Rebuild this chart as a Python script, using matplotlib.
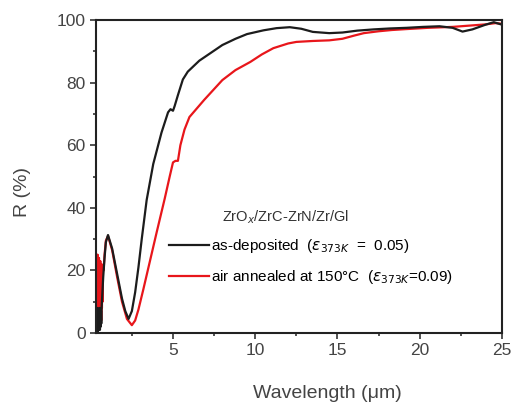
import matplotlib.pyplot as plt
from matplotlib.ticker import MultipleLocator

plt.rcParams["font.family"] = ["Liberation Sans", "DejaVu Sans"]

# as-deposited (black)
wl_dep = [0.32, 0.34, 0.36, 0.38, 0.40, 0.42, 0.44, 0.46, 0.48, 0.50, 0.52, 0.54,
          0.56, 0.58, 0.60, 0.62, 0.64, 0.66, 0.70, 0.76,
          0.84, 0.92, 1.05, 1.3, 1.6, 1.9, 2.1, 2.3, 2.5, 2.7, 2.9, 3.1, 3.4, 3.8,
          4.3, 4.7, 4.85, 5.0, 5.1, 5.3, 5.6, 5.9, 6.6, 7.3, 8.0, 8.8, 9.5, 10.5,
          11.3, 12.1, 12.8, 13.5, 14.5, 15.3, 16.2, 17.2, 18.2, 19.2, 20.2, 21.2,
          22.0, 22.6, 23.2, 24.0, 24.5, 25.0]
R_dep = [1, 8, 0.5, 7, 1, 8, 0.5, 6, 1, 7, 2, 8,
         1, 6, 2, 7, 3, 8, 12, 18,
         24, 29, 31.3, 27, 19, 11, 7, 4.5, 7, 13, 21, 30, 42.5, 54,
         64, 70.5, 71.5, 71, 72.5, 76, 81, 83.5, 87, 89.5, 92, 94, 95.5, 96.7,
         97.4, 97.7, 97.2, 96.2, 95.8, 96.0, 96.6, 97.0, 97.3, 97.5, 97.8, 98.0,
         97.5, 96.3, 97.0, 98.5, 99.3, 98.5]

# air annealed at 150 C (red)
wl_ann = [0.32, 0.34, 0.36, 0.38, 0.40, 0.42, 0.44, 0.46, 0.48, 0.50, 0.52, 0.54,
          0.56, 0.58, 0.60, 0.62, 0.64, 0.66, 0.68, 0.70, 0.72, 0.74, 0.78,
          0.84, 0.92, 1.05, 1.3, 1.6, 1.9, 2.2,
          2.5, 2.7, 2.9, 3.2, 3.6, 4.0, 4.5, 4.8, 5.0, 5.15, 5.3, 5.45, 5.7, 6.0,
          6.9, 8.0, 8.8, 9.7, 10.4, 11.1, 12.0, 12.5, 13.5, 14.5, 15.3, 16.0, 16.6,
          17.5, 18.3, 19.2, 20.5, 22.0, 23.0, 24.0, 24.6, 25.0]
R_ann = [3, 24, 1, 25, 2, 25, 4, 23, 2, 24, 5, 22,
         3, 23, 6, 21, 4, 22, 8, 20, 10, 21, 20,
         25, 29.5, 31, 26.5, 18, 10, 4.5,
         2.5, 4, 7.5, 14, 23, 32, 43, 50, 54.5, 55, 55, 60, 65, 69,
         74.5, 80.8, 84, 86.6, 89, 91, 92.5, 93, 93.3, 93.5, 94, 95, 95.8,
         96.4, 96.8, 97.1, 97.5, 97.8, 98.2, 98.6, 99, 98.8]

fig = plt.figure(figsize=(5.14, 4.07), dpi=100)
ax = fig.add_axes([96 / 514, (407 - 333) / 407, 406 / 514, 313 / 407])

ax.plot(wl_ann, R_ann, color="#e8161b", lw=1.6,
        label="air annealed at 150\u00b0C  ($\\epsilon_{373K}$=0.09)")
ax.plot(wl_dep, R_dep, color="#1c1c1c", lw=1.6,
        label=r"as-deposited  ($\epsilon_{373K}$  =  0.05)")

ax.set_xlim(0.32, 25)
ax.set_ylim(0, 100)
ax.xaxis.set_major_locator(MultipleLocator(5))
ax.xaxis.set_minor_locator(MultipleLocator(2.5))
ax.yaxis.set_major_locator(MultipleLocator(20))
ax.yaxis.set_minor_locator(MultipleLocator(10))
ax.tick_params(which="both", direction="out", labelsize=12.5, width=1.2,
               color="#333333", labelcolor="#444444")
ax.tick_params(which="major", length=4)
ax.tick_params(which="minor", length=2.5)
for s in ax.spines.values():
    s.set_linewidth(1.5)
    s.set_color("#222222")

ax.set_xlabel("Wavelength (\u03bcm)", fontsize=14, color="#444444")
ax.set_ylabel("R (%)", fontsize=14, color="#444444")
ax.xaxis.set_label_coords(0.569, -0.165)
ax.yaxis.set_label_coords(-0.16, 0.45)

handles, labels = ax.get_legend_handles_labels()
ax.legend(handles[::-1], labels[::-1], loc="upper left", bbox_to_anchor=(0.165, 0.325),
          frameon=False, fontsize=11, handlelength=2.6, handletextpad=0.15,
          labelspacing=0.85, borderaxespad=0)
ax.text(0.31, 0.37, r"ZrO$_x$/ZrC-ZrN/Zr/Gl", transform=ax.transAxes, fontsize=10.5,
        color="#333333", va="center")

fig.savefig("out.png", dpi=100)
